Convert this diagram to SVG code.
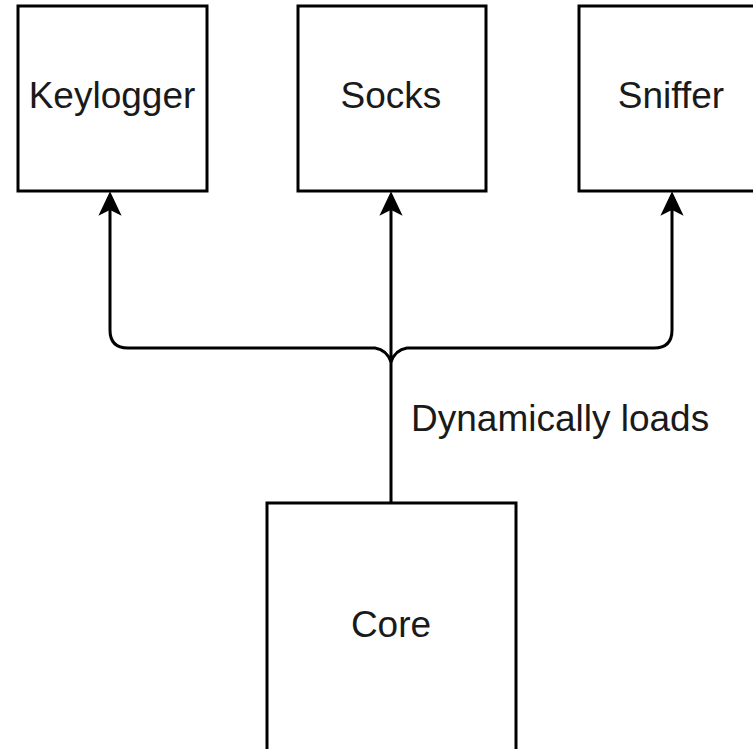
<svg xmlns="http://www.w3.org/2000/svg" width="753" height="749" viewBox="0 0 753 749">
<style>
.box{fill:#fff;stroke:#000;stroke-width:3}
.lbl{font-family:"Liberation Sans",Arial,sans-serif;font-size:37px;fill:#1a1a1a;text-anchor:middle}
.edge{fill:none;stroke:#000;stroke-width:3}
.ah{fill:#000;stroke:#000;stroke-width:1.5}
</style>
<rect width="753" height="749" fill="#fff"/>
<g id="connectors">
<path class="edge" d="M391,503 V205"/>
<path class="edge" d="M110,205 V330 Q110,348 128,348 H375 Q387,350 391,362"/>
<path class="edge" d="M672,205 V330 Q672,348 654,348 H407 Q395,350 391,362"/>
<path class="ah" d="M110,193 L100,214 L110,209 L120,214 Z"/>
<path class="ah" d="M391,193 L381,214 L391,209 L401,214 Z"/>
<path class="ah" d="M672,193 L662,214 L672,209 L682,214 Z"/>
<text class="lbl" x="411" y="431" style="text-anchor:start">Dynamically loads</text>
</g>
<g id="keylogger">
<rect class="box" x="18" y="6" width="189" height="185"/>
<text class="lbl" x="112" y="108">Keylogger</text>
</g>
<g id="socks">
<rect class="box" x="298" y="6" width="188" height="185"/>
<text class="lbl" x="391" y="108">Socks</text>
</g>
<g id="sniffer">
<rect class="box" x="579" y="6" width="189" height="185"/>
<text class="lbl" x="671" y="108">Sniffer</text>
</g>
<g id="core">
<rect class="box" x="267" y="503" width="249" height="260"/>
<text class="lbl" x="391" y="637">Core</text>
</g>
</svg>
